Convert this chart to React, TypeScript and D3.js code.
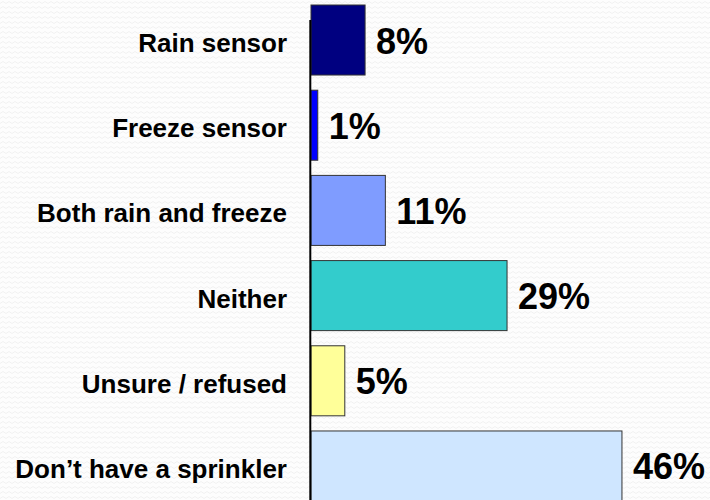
import React from "react";
import * as d3 from "d3";

const categories = [
  "Rain sensor",
  "Freeze sensor",
  "Both rain and freeze",
  "Neither",
  "Unsure / refused",
  "Don\u2019t have a sprinkler",
];
const values = [8, 1, 11, 29, 5, 46];
const colors = ["#000080", "#0000ff", "#7f9cff", "#33cccc", "#ffff99", "#cfe6ff"];

const W = 710;
const H = 500;

export default function App() {
  const x = d3.scaleLinear().domain([0, 50]).range([311, 649]);
  const y = d3
    .scaleBand<string>()
    .domain(categories)
    .range([5, 501])
    .paddingInner(0.178)
    .paddingOuter(0);
  const font = "'Liberation Sans', Arial, Helvetica, sans-serif";

  return (
    <svg
      width={W}
      height={H}
      style={{ position: "absolute", left: 0, top: 0, display: "block" }}
    >
      <defs>
        <pattern id="zig" width="6" height="5" patternUnits="userSpaceOnUse">
          <rect width="6" height="5" fill="#fdfdfd" />
          <path d="M0,3.5 L3,1.5 L6,3.5" fill="none" stroke="#f1f1f1" strokeWidth="1" />
        </pattern>
      </defs>
      <rect x={0} y={0} width={W} height={H} fill="url(#zig)" />
      {categories.map((c, i) => {
        const y0 = y(c) as number;
        const bw = y.bandwidth();
        const cy = y0 + bw / 2;
        return (
          <g key={c}>
            <rect
              x={x(0)}
              y={y0}
              width={x(values[i]) - x(0)}
              height={bw}
              fill={colors[i]}
              stroke="#333"
              strokeWidth={1}
            />
            <text
              x={287}
              y={cy + 12}
              textAnchor="end"
              fontFamily={font}
              fontWeight="bold"
              fontSize={26}
              fill="#000"
            >
              {c}
            </text>
            <text
              x={x(values[i]) + 11}
              y={cy + 13.5}
              textAnchor="start"
              fontFamily={font}
              fontWeight="bold"
              fontSize={36}
              fill="#000"
            >
              {d3.format("d")(values[i]) + "%"}
            </text>
          </g>
        );
      })}
      <line x1={310.3} x2={310.3} y1={20} y2={H} stroke="#000" strokeWidth={2} />
    </svg>
  );
}
